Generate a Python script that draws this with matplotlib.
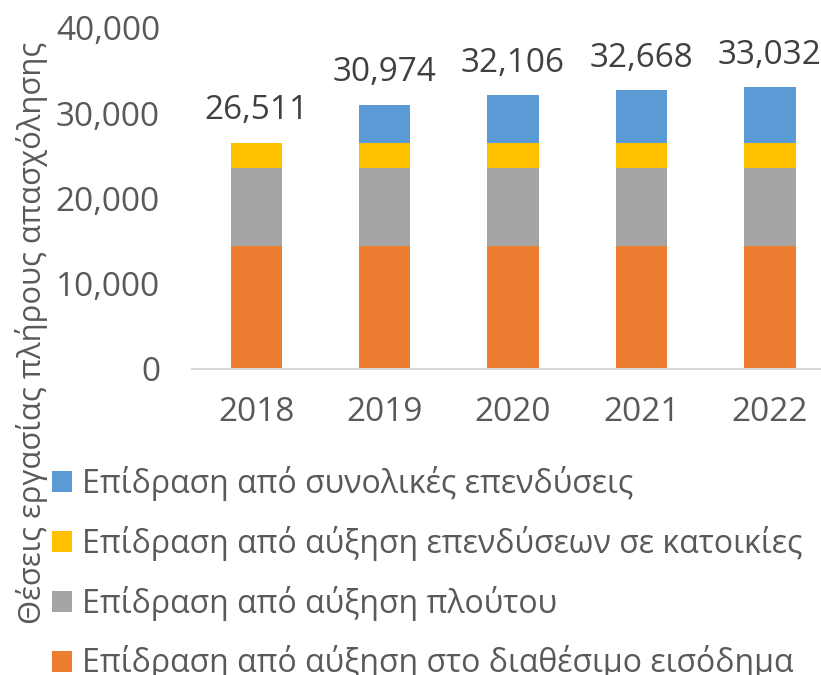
import numpy as np
import matplotlib.pyplot as plt
from matplotlib.patches import Patch

plt.rcParams['font.family'] = ['Open Sans', 'DejaVu Sans']

years = ['2018', '2019', '2020', '2021', '2022']
income = [14430, 14430, 14430, 14430, 14430]
wealth = [9160, 9160, 9160, 9160, 9160]
housing = [2921, 2921, 2921, 2921, 2921]
total_inv = [0, 4463, 5595, 6157, 6521]
totals = [26511, 30974, 32106, 32668, 33032]

series_names = [
    'Επίδραση από αύξηση στο διαθέσιμο εισόδημα',
    'Επίδραση από αύξηση πλούτου',
    'Επίδραση από αύξηση επενδύσεων σε κατοικίες',
    'Επίδραση από συνολικές επενδύσεις',
]
colors = ['#ED7D31', '#A5A5A5', '#FFC000', '#5B9BD5']

fig = plt.figure(figsize=(8.21, 6.75), dpi=100)
ax = fig.add_axes([0.2339, 0.4538, 0.782, 0.505])

x = np.arange(len(years))
bottom = np.zeros(len(years))
for vals, c in zip([income, wealth, housing, total_inv], colors):
    ax.bar(x, vals, 0.4, bottom=bottom, color=c, zorder=2)
    bottom += np.array(vals)

# etiketes synolou pano apo kathe bara
for xi, t in zip(x, totals):
    ax.annotate(f'{t:,}', (xi, t), xytext=(0, 23), textcoords='offset points',
                ha='center', va='center', fontsize=24, color='#404040')

ax.set_xlim(-0.5, 4.5)
ax.set_ylim(0, 40000)
ax.set_yticks(np.arange(0, 40001, 10000))
ax.set_yticklabels([f'{v:,}' for v in range(0, 40001, 10000)])
ax.set_xticks(x)
ax.set_xticklabels(years)
ax.tick_params(axis='both', length=0, labelsize=24, labelcolor='#595959')
ax.tick_params(axis='x', pad=20)
ax.tick_params(axis='y', pad=23)
for s in ['top', 'right', 'left']:
    ax.spines[s].set_visible(False)
ax.spines['bottom'].set_color('#D9D9D9')
ax.spines['bottom'].set_linewidth(1.5)

fig.text(0.038, 0.507, 'Θέσεις εργασίας πλήρους απασχόλησης', rotation=90,
         ha='center', va='center', fontsize=22.3, color='#595959')

handles = [Patch(facecolor=c) for c in colors][::-1]
fig.legend(handles, series_names[::-1], loc='upper left',
           bbox_to_anchor=(0.0477, 0.329), borderaxespad=0, frameon=False,
           fontsize=23, labelcolor='#595959', handlelength=0.63,
           handleheight=0.63, handletextpad=0.3, labelspacing=0.78)

fig.savefig('out.png', dpi=100)
